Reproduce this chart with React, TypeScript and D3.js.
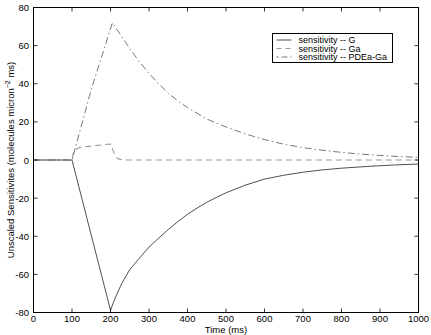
import React from "react";
import * as d3 from "d3";

const xTicks = [0, 100, 200, 300, 400, 500, 600, 700, 800, 900, 1000];
const yTicks = [-80, -60, -40, -20, 0, 20, 40, 60, 80];

const gTime = [0, 100, 200, 210, 220, 230, 250, 275, 300, 325, 350, 375, 400, 425, 450, 475, 500, 550, 600, 650, 700, 750, 800, 850, 900, 950, 1000];
const gValues = [0, 0, -78.8, -73.5, -68.8, -64.5, -57.5, -51.5, -45.7, -41, -36.5, -32.3, -28.5, -25.2, -22.2, -19.6, -17.2, -13.2, -10, -8, -6.4, -5.2, -4.3, -3.6, -3, -2.5, -2.1];

const gaTime = [0, 100, 103, 106, 110, 120, 150, 200, 205, 210, 215, 220, 230, 240, 1000];
const gaValues = [0, 0, 3, 4.6, 5.6, 6.6, 7.3, 8.4, 6, 3.2, 1.5, 0.6, 0.1, 0, 0];

const pdeTime = [0, 100, 150, 205, 215, 230, 250, 275, 300, 325, 350, 375, 400, 450, 500, 550, 600, 650, 700, 750, 800, 850, 900, 950, 1000];
const pdeValues = [0, 0, 37, 72, 69, 64.5, 58.5, 51.5, 45.5, 40, 35, 31, 27.5, 21.5, 17.3, 13.7, 10.7, 8.3, 6.5, 5.1, 4, 3.1, 2.4, 1.8, 1.4];

const legendLabels = ["sensitivity -- G", "sensitivity -- Ga", "sensitivity -- PDEa-Ga"];

const W = 431;
const H = 335;
const left = 33.5;
const right = 418.5;
const top = 7.5;
const bottom = 312.5;
const font = "'Liberation Sans', Arial, Helvetica, sans-serif";

const styles = [
  { stroke: "#222", dash: "none", width: 0.8 },
  { stroke: "#999", dash: "6,4", width: 1.1 },
  { stroke: "#555", dash: "7,3,1.5,3", width: 0.8 },
];
const legendDash = ["none", "5,4", "2,3,6,3"];

export default function App() {
  const x = d3.scaleLinear().domain([0, 1000]).range([left, right]);
  const y = d3.scaleLinear().domain([-80, 80]).range([bottom, top]);
  const line = d3
    .line<[number, number]>()
    .x((d) => x(d[0]))
    .y((d) => y(d[1]))
    .curve(d3.curveLinear);

  const series = [
    gTime.map((t, i) => [t, gValues[i]] as [number, number]),
    gaTime.map((t, i) => [t, gaValues[i]] as [number, number]),
    pdeTime.map((t, i) => [t, pdeValues[i]] as [number, number]),
  ];

  const tickLen = 4;
  const legX = 272.5;
  const legY = 33.5;
  const legW = 120;
  const legH = 29;

  return (
    <>
      <style>{`body{margin:0}`}</style>
      <svg width={W} height={H} style={{ display: "block", background: "#fff" }} fontFamily={font}>
        <rect x={0} y={0} width={W} height={H} fill="#fff" />
        {series.map((s, i) => (
          <path
            key={i}
            d={line(s) || ""}
            fill="none"
            stroke={styles[i].stroke}
            strokeWidth={styles[i].width}
            strokeDasharray={styles[i].dash}
            strokeLinejoin="round"
          />
        ))}
        <rect x={left} y={top} width={right - left} height={bottom - top} fill="none" stroke="#000" strokeWidth={1} />
        {xTicks.map((t) => (
          <g key={"x" + t}>
            <line x1={x(t)} x2={x(t)} y1={bottom} y2={bottom - tickLen} stroke="#000" strokeWidth={0.8} />
            <line x1={x(t)} x2={x(t)} y1={top} y2={top + tickLen} stroke="#000" strokeWidth={0.8} />
            <text x={x(t)} y={322} fontSize={9.5} textAnchor="middle" fill="#000">
              {t}
            </text>
          </g>
        ))}
        {yTicks.map((v) => (
          <g key={"y" + v}>
            <line x1={left} x2={left + tickLen} y1={y(v)} y2={y(v)} stroke="#000" strokeWidth={0.8} />
            <line x1={right} x2={right - tickLen} y1={y(v)} y2={y(v)} stroke="#000" strokeWidth={0.8} />
            <text x={29} y={y(v) + 3.5} fontSize={9.5} textAnchor="end" fill="#000">
              {String(v)}
            </text>
          </g>
        ))}
        <text x={(left + right) / 2} y={332.5} fontSize={9.5} textAnchor="middle" fill="#000">
          Time (ms)
        </text>
        <text transform={`translate(14,${(top + bottom) / 2}) rotate(-90)`} fontSize={9.5} textAnchor="middle" fill="#000">
          Unscaled Sensitivites (molecules micron
          <tspan dy={-4} fontSize={7}>−2</tspan>
          <tspan dy={4}> ms)</tspan>
        </text>
        <rect x={legX} y={legY} width={legW} height={legH} fill="#fff" stroke="#000" strokeWidth={1} />
        {legendLabels.map((lab, i) => {
          const ry = legY + 6.5 + i * 8.5;
          return (
            <g key={lab}>
              <line
                x1={legX + 4}
                x2={legX + 19}
                y1={ry}
                y2={ry}
                stroke={styles[i].stroke}
                strokeWidth={styles[i].width}
                strokeDasharray={legendDash[i]}
              />
              <text x={legX + 26} y={ry + 3.2} fontSize={9} fill="#000">
                {lab}
              </text>
            </g>
          );
        })}
      </svg>
    </>
  );
}
